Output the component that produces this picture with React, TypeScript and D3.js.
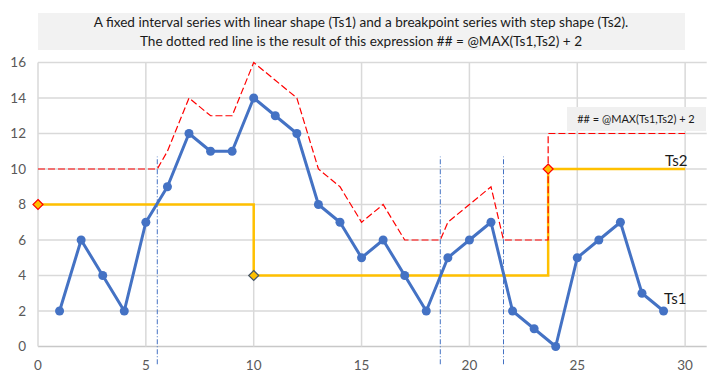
import React from "react";
import * as d3 from "d3";

const ts1X = [1,2,3,4,5,6,7,8,9,10,11,12,13,14,15,16,17,18,19,20,21,22,23,24,25,26,27,28,29];
const ts1Y = [2,6,4,2,7,9,12,11,11,14,13,12,8,7,5,6,4,2,5,6,7,2,1,0,5,6,7,3,2];

const ts2X = [0, 10, 23.65, 30];
const ts2Y = [8, 4, 10, 10];

const exprX = [0, 5.53, 6, 7, 8, 9, 10, 11, 12, 13, 14, 15, 16, 17, 18.65, 19, 20, 21, 21.58, 23.65, 23.65, 30];
const exprY = [10, 10, 11, 14, 13, 13, 16, 15, 14, 10, 9, 7, 8, 6, 6, 7, 8, 9, 6, 6, 12, 12];

const crossX = [5.53, 18.65, 21.58];
const crossRange = [-1, 10.7];

const xTicks = [0, 5, 10, 15, 20, 25, 30];
const yTicks = [0, 2, 4, 6, 8, 10, 12, 14, 16];

const titleLines = [
  "A fixed interval series with linear shape (Ts1) and a breakpoint series with step shape (Ts2).",
  "The dotted red line is the result of this expression ## = @MAX(Ts1,Ts2) + 2",
];
const exprLabel = "## = @MAX(Ts1,Ts2) + 2";

export default function App() {
  const W = 719, H = 377;
  const x = d3.scaleLinear().domain([0, 31]).range([38, 706.7]);
  const y = d3.scaleLinear().domain([0, 16]).range([346.5, 62.5]);
  const font = "Lato, 'Open Sans', sans-serif";

  const ts1Line = d3.line<number>().x((_, i) => x(ts1X[i])).y((d) => y(d))(ts1Y) || "";
  const ts2Pts: [number, number][] = ts2X.map((v, i) => [x(v), y(ts2Y[i])]);
  const ts2Line = d3.line().curve(d3.curveStepAfter)(ts2Pts) || "";
  const exprLine = d3.line<number>().x((_, i) => x(exprX[i])).y((d) => y(d))(exprY) || "";

  const diamond = (cx: number, cy: number, r: number) =>
    `M${cx},${cy - r}L${cx + r},${cy}L${cx},${cy + r}L${cx - r},${cy}Z`;
  const diamondStrokes = ["#ff0000", "#44546a", "#ff0000"];

  return (
    <svg width={W} height={H} style={{ position: "absolute", left: 0, top: 0, background: "#fff" }}>
      {/* title box */}
      <rect x={38} y={13} width={647} height={37} fill="#f2f2f2" />
      {titleLines.map((t, i) => (
        <text key={i} x={361} y={27 + i * 19} textAnchor="middle" fontFamily={font} fontSize={13.6} fill="#1a1a1a">
          {t}
        </text>
      ))}

      {/* gridlines */}
      {yTicks.map((v) => (
        <line key={"h" + v} x1={x(0)} x2={x(31)} y1={y(v)} y2={y(v)} stroke={v === 0 ? "#c8c8c8" : "#d9d9d9"} strokeWidth={1.5} />
      ))}
      {xTicks.map((v) => (
        <line key={"v" + v} x1={x(v)} x2={x(v)} y1={y(16)} y2={y(0)} stroke="#d9d9d9" strokeWidth={1.5} />
      ))}

      {/* tick labels */}
      {yTicks.map((v) => (
        <text key={"yl" + v} x={26} y={y(v)} dy="0.35em" textAnchor="end" fontFamily={font} fontSize={13.5} fill="#595959">
          {v}
        </text>
      ))}
      {xTicks.map((v) => (
        <text key={"xl" + v} x={x(v)} y={365} dy="0.35em" textAnchor="middle" fontFamily={font} fontSize={13.5} fill="#595959">
          {v}
        </text>
      ))}

      {/* crossing markers */}
      {crossX.map((v) => (
        <line key={"c" + v} x1={x(v)} x2={x(v)} y1={y(crossRange[0])} y2={y(crossRange[1])} stroke="#4472c4" strokeWidth={1} strokeDasharray="5,2,1,2" />
      ))}

      {/* Ts2 */}
      <path d={ts2Line} fill="none" stroke="#ffc000" strokeWidth={2.5} />

      {/* expression line */}
      <path d={exprLine} fill="none" stroke="#ff0000" strokeWidth={1.2} strokeDasharray="7,3" />

      {ts2X.slice(0, 3).map((v, i) => (
        <path key={"d" + i} d={diamond(x(v), y(ts2Y[i]), 5)} fill="#ffc000" stroke={diamondStrokes[i]} strokeWidth={1.2} />
      ))}

      {/* Ts1 */}
      <path d={ts1Line} fill="none" stroke="#4472c4" strokeWidth={3} strokeLinejoin="round" />
      {ts1Y.map((v, i) => (
        <circle key={"p" + i} cx={x(ts1X[i])} cy={y(v)} r={4.5} fill="#4472c4" />
      ))}

      {/* series labels */}
      <text x={665} y={166} fontFamily={font} fontSize={15} fill="#1a1a1a">Ts2</text>
      <text x={664} y={304} fontFamily={font} fontSize={15} fill="#1a1a1a">Ts1</text>

      {/* expression label */}
      <rect x={567} y={107} width={139} height={24} fill="#f0f0f0" />
      <text x={636} y={119} dy="0.35em" textAnchor="middle" fontFamily={font} fontSize={11} fill="#1a1a1a">
        {exprLabel}
      </text>
    </svg>
  );
}
